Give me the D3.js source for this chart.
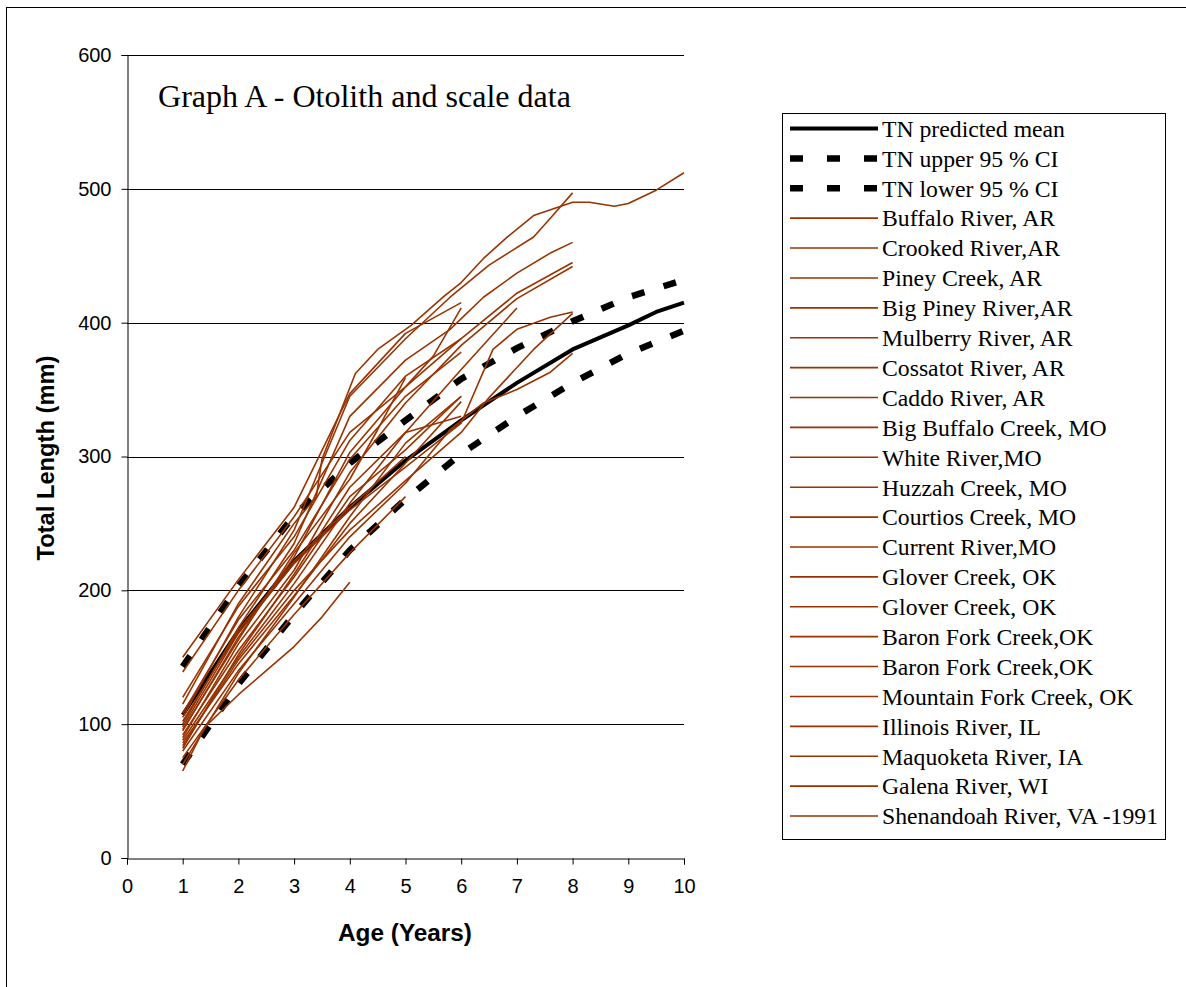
<!DOCTYPE html>
<html>
<head>
<meta charset="utf-8">
<script src="https://cdn.jsdelivr.net/npm/d3@7"></script>
<style>
  body { margin: 0; background: #fff; }
  svg { display: block; }
</style>
</head>
<body>
<svg id="chart" width="1186" height="987"></svg>
<script>
// Axis ticks
const ageTicks = [0, 1, 2, 3, 4, 5, 6, 7, 8, 9, 10];
const lengthTicks = [0, 100, 200, 300, 400, 500, 600];

// Tennessee predicted mean and 95 % confidence limits (total length, mm)
const meanAges = [1, 2, 3, 4, 5, 6, 7, 8, 9, 9.5, 10];
const meanLengths = [107, 170, 222, 262, 297, 327, 355, 380, 398, 408, 415];
const ciAges = [1, 2, 3, 4, 5, 6, 7, 8, 9, 10];
const upperLengths = [143, 203, 256, 295, 327, 358, 381, 401, 419, 432];
const lowerLengths = [70, 130, 182, 230, 268, 302, 330, 355, 377, 394];

// Back-calculated length at age for each river population
const siteNames = [
  "Buffalo River, AR", "Crooked River,AR", "Piney Creek, AR", "Big Piney River,AR",
  "Mulberry River, AR", "Cossatot River, AR", "Caddo River, AR", "Big Buffalo Creek, MO",
  "White River,MO", "Huzzah Creek, MO", "Courtios Creek, MO", "Current River,MO",
  "Glover Creek, OK", "Glover Creek, OK", "Baron Fork Creek,OK", "Baron Fork Creek,OK",
  "Mountain Fork Creek, OK", "Illinois River, IL", "Maquoketa River, IA", "Galena River, WI",
  "Shenandoah River, VA -1991"
];
const siteAges = [
  [1, 2, 3, 3.4, 3.5, 4.1, 4.5, 5.1, 5.7, 6, 6.4, 6.8, 7.3, 8, 8.3, 8.75, 9, 9.5, 10],
  [1, 2, 3, 4, 5, 5.8, 6.5, 7.3, 7.6, 8],
  [1, 2, 3, 4, 5, 5.8, 6.4, 7, 7.6, 8],
  [1, 2, 3, 4, 5, 6, 7, 8],
  [1, 2, 3, 4, 5, 6, 7, 8],
  [1, 2, 3, 4, 5, 6, 7],
  [1, 2, 3, 4, 5, 6, 6.57, 7, 7.6, 8],
  [1, 2, 3, 4, 5, 6, 6.5, 7.3, 8],
  [1, 2, 3, 4, 5, 5.8, 6.4, 7, 7.6, 8],
  [1, 2, 3, 4, 5, 6],
  [1, 2, 3, 4, 5, 5.5, 6],
  [1, 2, 3, 4, 5, 6],
  [1, 2, 3, 4, 5, 6],
  [1, 2, 3, 4, 5, 6],
  [1, 2, 3, 4, 5, 6],
  [1, 2, 3, 4, 4.5, 5],
  [1, 1.4, 2, 2.5, 3, 3.5, 4],
  [1, 2, 3, 4, 5, 6],
  [1, 2, 3, 4, 5],
  [1, 2, 3, 4, 5],
  [1, 2, 3, 4, 5, 6]
];
const siteLengths = [
  [115, 190, 250, 270, 298, 362, 380, 398, 420, 430, 448, 463, 480, 490, 490, 487, 489, 499, 512],
  [105, 180, 245, 345, 388, 419, 443, 464, 478, 497],
  [100, 172, 235, 330, 372, 395, 419, 437, 452, 460],
  [95, 165, 225, 303, 352, 388, 422, 445],
  [90, 160, 215, 288, 340, 383, 418, 442],
  [88, 150, 205, 265, 318, 365, 411],
  [98, 168, 220, 260, 292, 325, 380, 395, 404, 408],
  [84, 148, 200, 245, 282, 318, 344, 380, 407],
  [80, 140, 190, 240, 280, 320, 340, 350, 363, 377],
  [150, 208, 262, 347, 392, 415],
  [139, 200, 255, 318, 352, 375, 411],
  [120, 188, 240, 312, 360, 388],
  [108, 178, 230, 298, 345, 378],
  [92, 155, 210, 270, 305, 345],
  [86, 145, 196, 250, 295, 341],
  [96, 163, 228, 283, 320, 359],
  [65, 98, 122, 140, 158, 180, 206],
  [82, 152, 212, 277, 318, 330],
  [75, 133, 182, 228, 270],
  [102, 170, 222, 262, 300],
  [70, 138, 195, 255, 310, 345]
];

const brown = "#993300";
const svg = d3.select("#chart");

// Outer chart-area frame
svg.append("rect")
  .attr("x", 6.5).attr("y", 7.5)
  .attr("width", 1200).attr("height", 1000)
  .attr("fill", "none").attr("stroke", "#000").attr("stroke-width", 1);

const x = d3.scaleLinear().domain([0, 10]).range([127, 684]);
const y = d3.scaleLinear().domain([0, 600]).range([858, 55]);

// Horizontal gridlines
svg.append("g")
  .selectAll("line")
  .data(lengthTicks.filter(d => d > 0))
  .join("line")
  .attr("x1", x(0)).attr("x2", x(10))
  .attr("y1", d => Math.round(y(d)) + 0.5).attr("y2", d => Math.round(y(d)) + 0.5)
  .attr("stroke", "#000").attr("stroke-width", 1);

// Axes
const xAxis = svg.append("g")
  .attr("transform", `translate(0,${Math.round(y(0)) + 0.5})`)
  .call(d3.axisBottom(x).tickValues(ageTicks).tickSize(6).tickPadding(14).tickFormat(d3.format("d")));
const yAxis = svg.append("g")
  .attr("transform", `translate(${Math.round(x(0)) + 0.5},0)`)
  .call(d3.axisLeft(y).tickValues(lengthTicks).tickSize(6).tickPadding(10).tickFormat(d3.format("d")));

[xAxis, yAxis].forEach(g => {
  g.select(".domain").attr("stroke", "#000");
  g.selectAll(".tick line").attr("stroke", "#000");
  g.selectAll(".tick text")
    .attr("fill", "#000")
    .style("font-family", "'Liberation Sans', Arial, sans-serif")
    .style("font-size", "20px");
});

const line = d3.line().x(d => x(d[0])).y(d => y(d[1]));
const zip = (a, b) => a.map((v, i) => [v, b[i]]);

// TN reference curves
svg.append("path").datum(zip(ciAges, upperLengths)).attr("d", line)
  .attr("fill", "none").attr("stroke", "#000").attr("stroke-width", 6.5)
  .attr("stroke-dasharray", "13,20");
svg.append("path").datum(zip(ciAges, lowerLengths)).attr("d", line)
  .attr("fill", "none").attr("stroke", "#000").attr("stroke-width", 6.5)
  .attr("stroke-dasharray", "13,20");
svg.append("path").datum(zip(meanAges, meanLengths)).attr("d", line)
  .attr("fill", "none").attr("stroke", "#000").attr("stroke-width", 4)
  .attr("stroke-linejoin", "round");

// Population growth curves
svg.append("g")
  .selectAll("path")
  .data(siteNames.map((n, i) => zip(siteAges[i], siteLengths[i])))
  .join("path")
  .attr("d", line)
  .attr("fill", "none").attr("stroke", brown).attr("stroke-width", 1.6)
  .attr("stroke-linejoin", "round");

// Fit a text element's font size to a given rendered width
function fitWidth(sel, target) {
  const base = parseFloat(sel.style("font-size"));
  const w = sel.node().getComputedTextLength();
  sel.style("font-size", (base * target / w).toFixed(2) + "px");
}

// Title inside plot
const title = svg.append("text")
  .attr("x", 158).attr("y", 107)
  .style("font-family", "'Liberation Serif', 'Times New Roman', serif")
  .style("font-size", "30px")
  .text("Graph A - Otolith and scale data");
fitWidth(title, 413);

// Axis titles
const xTitle = svg.append("text")
  .attr("x", 405).attr("y", 941).attr("text-anchor", "middle")
  .style("font-family", "'Liberation Sans', Arial, sans-serif")
  .style("font-weight", "bold").style("font-size", "20px")
  .text("Age (Years)");
fitWidth(xTitle, 134);
const yTitle = svg.append("text")
  .attr("transform", "translate(54,458) rotate(-90)").attr("text-anchor", "middle")
  .style("font-family", "'Liberation Sans', Arial, sans-serif")
  .style("font-weight", "bold").style("font-size", "20px")
  .text("Total Length (mm)");
fitWidth(yTitle, 205);

// Legend
const legendItems = [
  { name: "TN predicted mean", kind: "mean" },
  { name: "TN upper 95 % CI", kind: "ci" },
  { name: "TN lower 95 % CI", kind: "ci" },
  ...siteNames.map(n => ({ name: n, kind: "site" }))
];
const legend = svg.append("g");
legend.append("rect")
  .attr("x", 782.5).attr("y", 113.5).attr("width", 383).attr("height", 726)
  .attr("fill", "#fff").attr("stroke", "#000").attr("stroke-width", 1);
const rowY = d3.scaleLinear().domain([0, legendItems.length - 1]).range([128.5, 816]);
const rows = legend.selectAll("g.row").data(legendItems).join("g")
  .attr("class", "row")
  .attr("transform", (d, i) => `translate(0,${rowY(i)})`);
rows.append("line")
  .attr("x1", 790).attr("x2", 878).attr("y1", 0).attr("y2", 0)
  .attr("stroke", d => d.kind === "site" ? brown : "#000")
  .attr("stroke-width", d => d.kind === "site" ? 1.6 : d.kind === "ci" ? 6.5 : 4)
  .attr("stroke-dasharray", d => d.kind === "ci" ? "13,24" : null);
const labels = rows.append("text")
  .attr("x", 882).attr("y", 0).attr("dy", "0.35em")
  .style("font-family", "'Liberation Serif', 'Times New Roman', serif")
  .style("font-size", "22px")
  .text(d => d.name);
const probe = d3.select(labels.nodes()[0]);
const baseSize = 22;
const sizeFit = baseSize * 183 / probe.node().getComputedTextLength();
labels.style("font-size", sizeFit.toFixed(2) + "px");
</script>
</body>
</html>
